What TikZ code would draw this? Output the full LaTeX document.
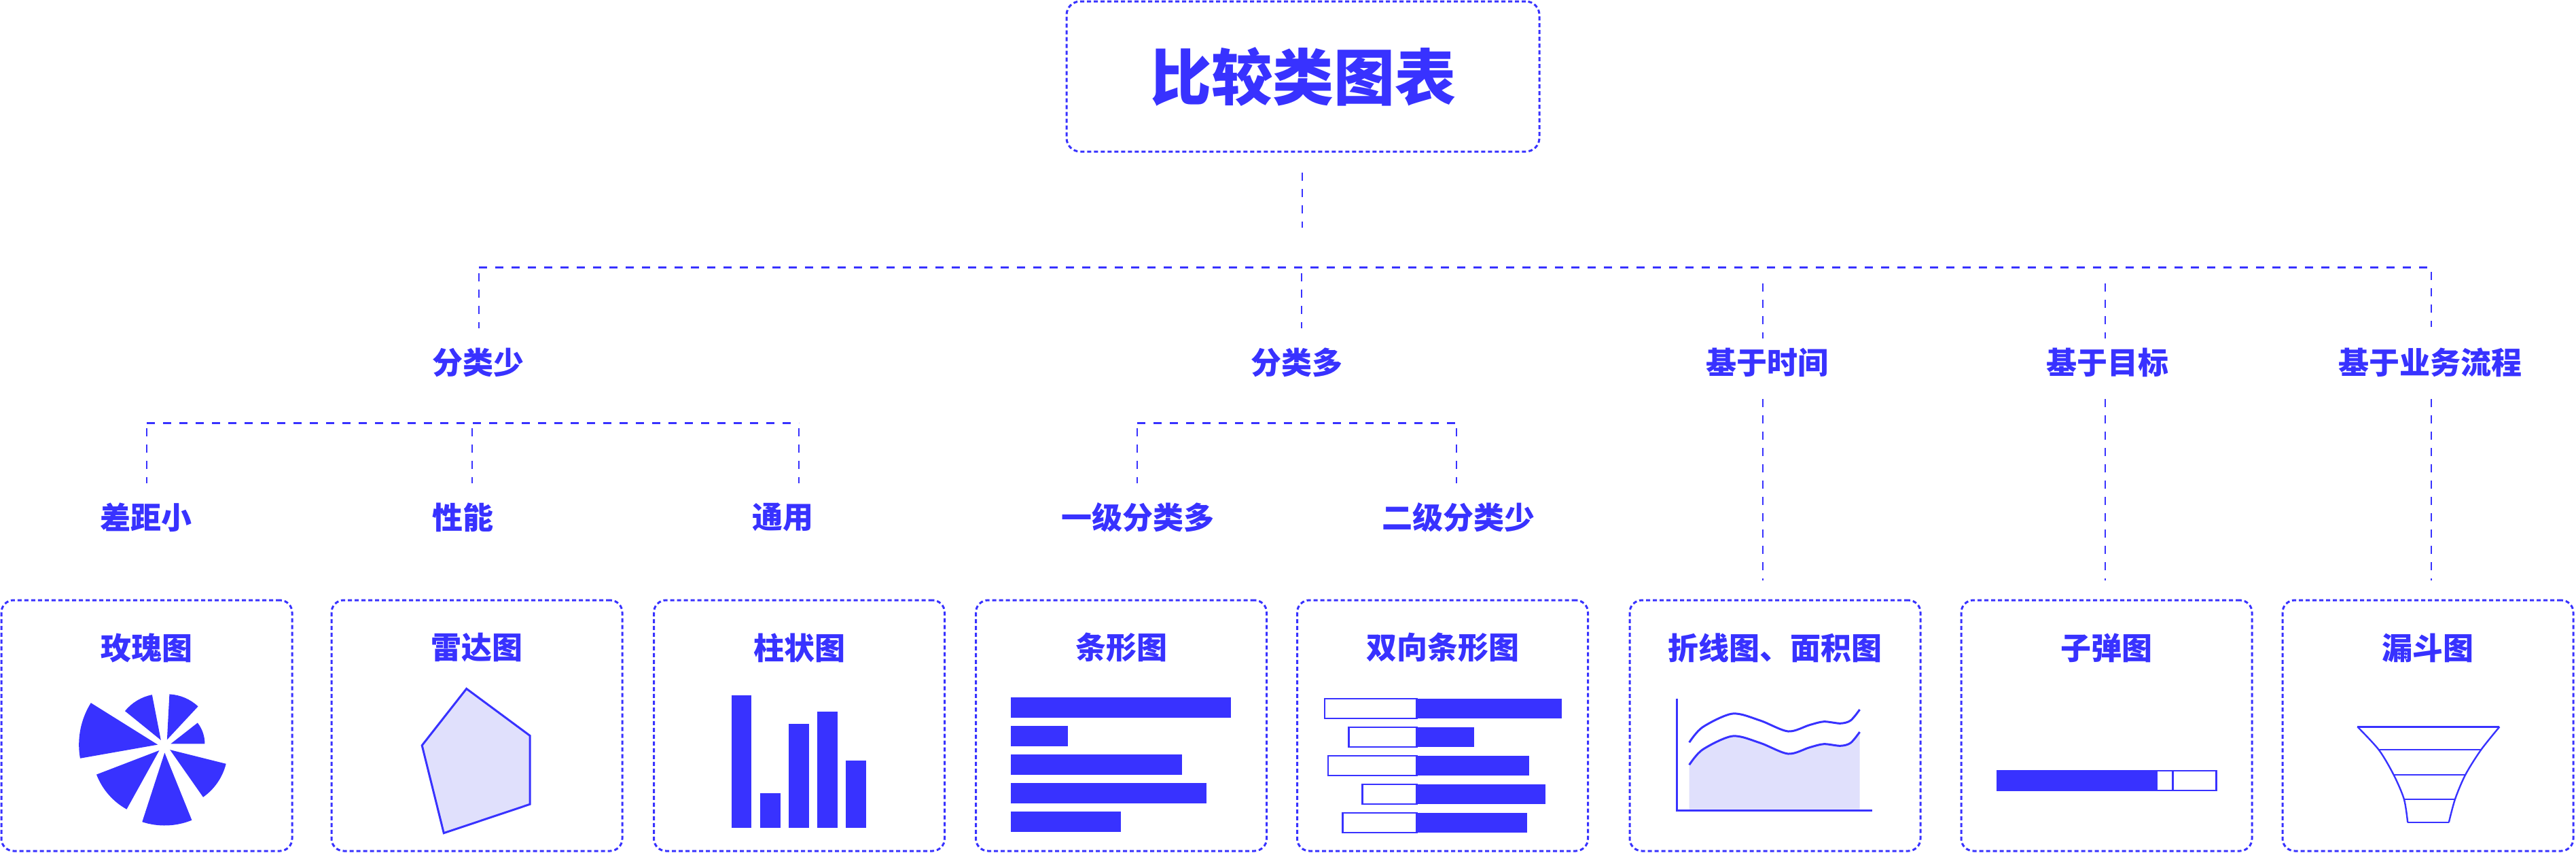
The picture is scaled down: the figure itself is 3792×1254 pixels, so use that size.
\documentclass[tikz,border=0pt]{standalone}
\usepackage{fontspec}
\newfontfamily\cjk{Noto Sans CJK SC}
\usetikzlibrary{calc}
\definecolor{cblue}{RGB}{56,50,255}
\definecolor{clight}{RGB}{224,224,252}
\begin{document}
\begin{tikzpicture}[x=0.25pt,y=-0.25pt,
  lab/.style={font={\cjk\bfseries\fontsize{11.25pt}{13pt}\selectfont}, text=cblue, inner sep=0pt},
  bigtitle/.style={font={\cjk\bfseries\fontsize{22.5pt}{26pt}\selectfont}, text=cblue},
  card/.style={draw=cblue, line width=0.75pt, dash pattern=on 1.5pt off 1pt, rounded corners=4.5pt, inner sep=0pt, minimum width=107pt, minimum height=92.25pt},
  hconn/.style={draw=cblue, line width=0.75pt, dash pattern=on 3pt off 3pt},
  vconn/.style={draw=cblue, line width=0.6pt, dash pattern=on 3pt off 3pt},
  outl/.style={draw=cblue, line width=0.6pt}]
\fill[white] (0,0) rectangle (3792,1254);
\useasboundingbox (0,0) rectangle (3792,1254);

% root
\node[card, bigtitle, minimum width=174pt, minimum height=55.25pt, rounded corners=5pt] (root) at (1918,112.5) {比较类图表};

% level-1 labels
\node[lab] (fenshao) at (704,533) {分类少};
\node[lab] (fenduo) at (1909,533) {分类多};
\node[lab] (time) at (2601,533) {基于时间};
\node[lab] (goal) at (3102,533) {基于目标};
\node[lab] (flow) at (3577,533) {基于业务流程};

% level-2 labels
\node[lab] (chaju) at (215,761) {差距小};
\node[lab] (xingneng) at (681,761) {性能};
\node[lab] (tongyong) at (1152,761) {通用};
\node[lab] (yiji) at (1675,761) {一级分类多};
\node[lab] (erji) at (2147,761) {二级分类少};

% cards
\node[card] (b1) at (216,1067.5) {};
\node[card] (b2) at (702,1067.5) {};
\node[card] (b3) at (1176.5,1067.5) {};
\node[card] (b4) at (1650.5,1067.5) {};
\node[card] (b5) at (2123.5,1067.5) {};
\node[card] (b6) at (2613,1067.5) {};
\node[card] (b7) at (3101,1067.5) {};
\node[card] (b8) at (3574,1067.5) {};

\node[lab] (t1) at (216,953) {玫瑰图};
\node[lab] (t2) at (702,953) {雷达图};
\node[lab] (t3) at (1176.5,953) {柱状图};
\node[lab] (t4) at (1650.5,953) {条形图};
\node[lab] (t5) at (2123.5,953) {双向条形图};
\node[lab] (t6) at (2613,953) {折线图、面积图};
\node[lab] (t7) at (3101,953) {子弹图};
\node[lab] (t8) at (3574,953) {漏斗图};

% junction coordinates
\coordinate (h0) at (1917,393);
\coordinate (h1) at (705,393);
\coordinate (h2) at (1916,393);
\coordinate (h3) at (2595,393);
\coordinate (h4) at (3099,393);
\coordinate (h5) at (3579,393);
\coordinate (s1) at (216,622);
\coordinate (s2) at (695,622);
\coordinate (s3) at (1176,622);
\coordinate (s4) at (1674,622);
\coordinate (s5) at (2144,622);

% connectors
\draw[vconn, shorten <=7.25pt, shorten >=14.5pt] (root.south -| h0) -- (h0);
\draw[hconn] (h1) -- (h5);
\draw[vconn, shorten <=2.25pt, shorten >=7pt] (h1) -- (h1 |- fenshao.north);
\draw[vconn, shorten <=2.25pt, shorten >=7pt] (h2) -- (h2 |- fenduo.north);
\draw[vconn, shorten <=6pt, shorten >=3.25pt] (h3) -- (h3 |- time.north);
\draw[vconn, shorten <=6pt, shorten >=3.25pt] (h4) -- (h4 |- goal.north);
\draw[vconn, shorten <=1.75pt, shorten >=7.5pt] (h5) -- (h5 |- flow.north);
\draw[vconn, shorten <=8pt, shorten >=7pt] (h3 |- time.south) -- (h3 |- b6.north);
\draw[vconn, shorten <=8pt, shorten >=7pt] (h4 |- goal.south) -- (h4 |- b7.north);
\draw[vconn, shorten <=8pt, shorten >=7pt] (h5 |- flow.south) -- (h5 |- b8.north);

\draw[hconn] (s1) -- (s3);
\draw[vconn, shorten <=2pt, shorten >=7pt] (s1) -- (s1 |- chaju.north);
\draw[vconn, shorten <=2pt, shorten >=7pt] (s2) -- (s2 |- xingneng.north);
\draw[vconn, shorten <=2pt, shorten >=7pt] (s3) -- (s3 |- tongyong.north);
\draw[hconn] (s4) -- (s5);
\draw[vconn, shorten <=2pt, shorten >=7pt] (s4) -- (s4 |- yiji.north);
\draw[vconn, shorten <=2pt, shorten >=7pt] (s5) -- (s5 |- erji.north);

% rose chart
\coordinate (rc) at (242,1097.5);
\foreach \a/\b/\r in {148/190/125, 101/141/77, 47/87/76, 0/38/59, -55/-14/94, -108/-68/116, 201/241/108}{
  \pgfmathsetmacro\m{-0.5*(\a+\b)}
  \pgfmathsetmacro\sa{-1*(\a)}
  \pgfmathsetmacro\sb{-1*(\b)}
  \pgfmathsetmacro\rr{\r-9}
  \fill[cblue] ($(rc)+(\m:10)$) -- ++(\sa:\rr) arc[start angle=\sa, end angle=\sb, radius=\rr] -- cycle;
}

% radar
\filldraw[fill=clight, draw=cblue, line width=0.75pt] (686.7,1013.3) -- (780,1082.3) -- (780,1183.3) -- (653.3,1225.7) -- (621.2,1096.7) -- cycle;

% columns
\fill[cblue] (1077.3,1023.3) rectangle (1106.4,1217.7);
\fill[cblue] (1119.1,1167) rectangle (1148.8,1217.7);
\fill[cblue] (1160.9,1065) rectangle (1191.2,1217.7);
\fill[cblue] (1203.3,1047) rectangle (1233,1217.7);
\fill[cblue] (1245.2,1119) rectangle (1274.8,1217.7);

% bars
\fill[cblue] (1488.2,1026) rectangle (1812.4,1055.7);
\fill[cblue] (1488.2,1068) rectangle (1572.4,1097.7);
\fill[cblue] (1488.2,1110) rectangle (1740.3,1139.7);
\fill[cblue] (1488.2,1152) rectangle (1776,1181.7);
\fill[cblue] (1488.2,1194) rectangle (1650,1223.7);

% bidirectional bars
\foreach \l/\rt/\y in {1949.7/2299.4/1027.7, 1985.5/2170.3/1069.7, 1955.2/2250.9/1111.7, 2005.5/2275.2/1153.7, 1976.4/2247.9/1195.7}{
  \fill[cblue] (2085.5,\y) rectangle (\rt,\y+29.3);
  \draw[outl] (\l,\y) rectangle (2085.5,\y+29.3);
}

% area chart
\fill[clight] plot[smooth] coordinates {(2486.7,1125.3) (2506.1,1103) (2550.3,1083) (2590.9,1093) (2632.1,1109) (2663.6,1099.7) (2684.8,1094.7) (2709.1,1097.3) (2724.2,1093) (2737.6,1077)} -- (2737.6,1190.5) -- (2486.7,1190.5) -- cycle;
\draw[cblue, line width=0.75pt] plot[smooth] coordinates {(2486.7,1092.3) (2506.1,1070) (2550.3,1050) (2590.9,1060) (2632.1,1076) (2663.6,1066.7) (2684.8,1061.7) (2709.1,1064.3) (2724.2,1060) (2737.6,1044)};
\draw[cblue, line width=0.75pt] plot[smooth] coordinates {(2486.7,1125.3) (2506.1,1103) (2550.3,1083) (2590.9,1093) (2632.1,1109) (2663.6,1099.7) (2684.8,1094.7) (2709.1,1097.3) (2724.2,1093) (2737.6,1077)};
\draw[cblue, line width=0.75pt] (2468.5,1027.7) -- (2468.5,1192.3) -- (2756.4,1192.3);

% bullet
\fill[cblue] (2940,1134.3) rectangle (3176.4,1163.3);
\draw[outl, line width=0.55pt] (2940,1134.3) rectangle (3262.4,1163.3);
\draw[cblue, line width=0.75pt] (3198.8,1134.3) -- (3198.8,1163.3);

% funnel
\draw[cblue, line width=0.75pt] (3470.3,1069.3) -- (3679.4,1069.3);
\draw[cblue, line width=0.6pt] plot[smooth] coordinates {(3470.3,1069.3) (3501.8,1103.3) (3523.6,1140) (3538.8,1175.7) (3544.2,1210)};
\draw[cblue, line width=0.6pt] plot[smooth] coordinates {(3679.4,1069.3) (3652.1,1103.3) (3629.1,1140) (3614,1175.7) (3604.8,1210)};
\draw[cblue, line width=0.55pt] (3501.8,1103.3) -- (3652.1,1103.3);
\draw[cblue, line width=0.55pt] (3523.6,1140) -- (3629.1,1140);
\draw[cblue, line width=0.55pt] (3538.8,1175.7) -- (3614,1175.7);
\draw[cblue, line width=0.6pt] (3544.2,1210) -- (3604.8,1210);
\end{tikzpicture}
\end{document}
